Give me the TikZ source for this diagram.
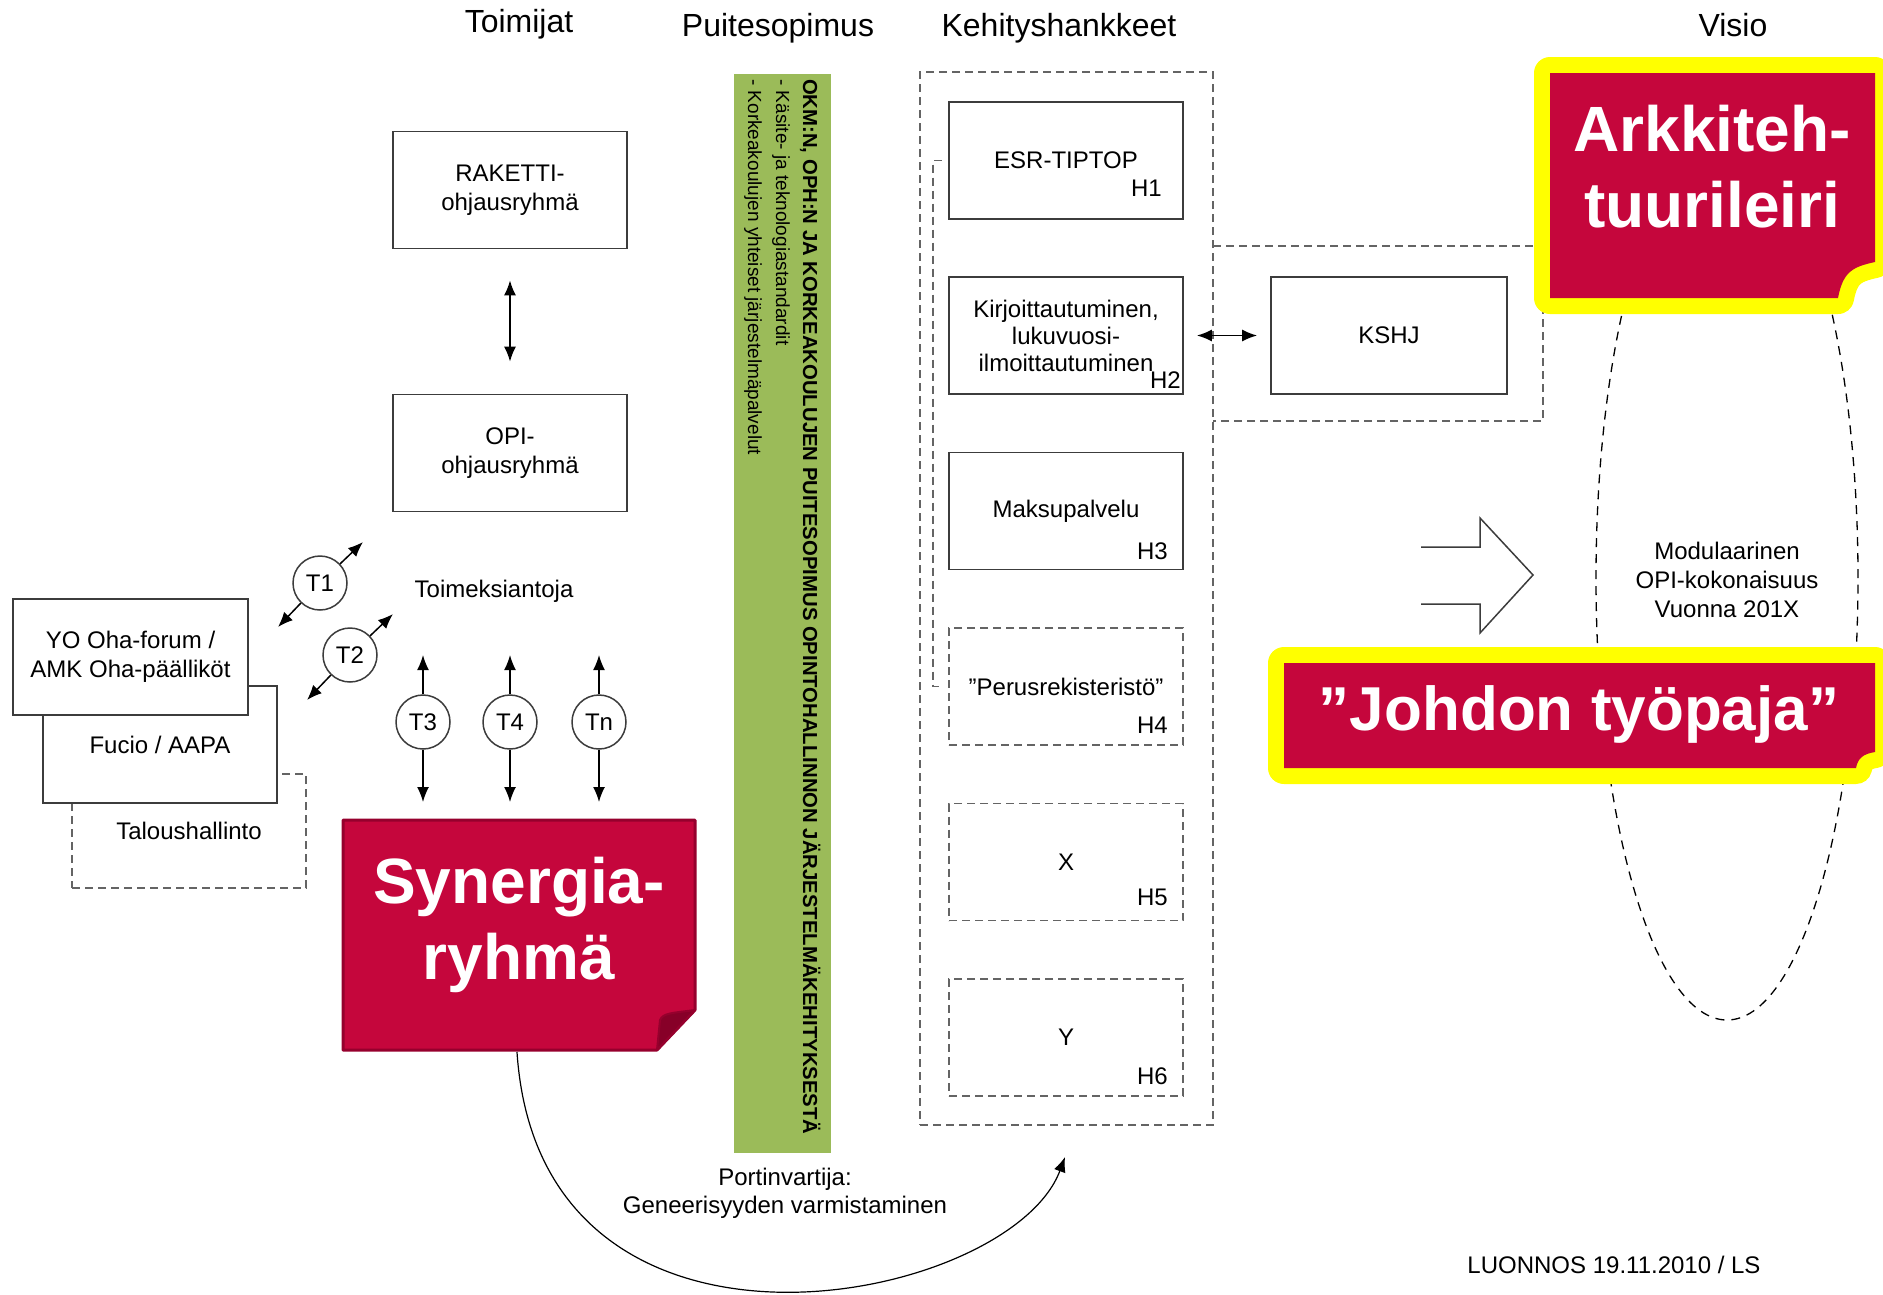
\documentclass[tikz,border=0pt]{standalone}
\usepackage{fontspec}
\setmainfont{Liberation Sans}
\usetikzlibrary{positioning,arrows.meta}
\definecolor{noteRed}{RGB}{197,6,60}
\definecolor{noteDark}{RGB}{150,0,45}
\definecolor{noteFold}{RGB}{135,0,40}
\definecolor{noteYellow}{RGB}{255,255,0}
\definecolor{barGreen}{HTML}{9BBB59}
\definecolor{lineGray}{RGB}{60,60,60}
\definecolor{dashGray}{RGB}{100,100,100}

\begin{document}
\begin{tikzpicture}[x=1pt,y=-1pt,
    every node/.style={font=\fontsize{24}{29}\selectfont},
    box/.style={draw=lineGray,line width=1.8pt,fill=white,minimum width=234pt,minimum height=117pt,align=center,inner sep=2pt},
    gdash/.style={draw=dashGray,line width=1.8pt,dash pattern=on 8pt off 5pt},
    dbox/.style={box,gdash},
    tcirc/.style={circle,draw=lineGray,line width=1.5pt,fill=white,minimum size=54pt,inner sep=0pt},
    arr/.style={-{Latex[length=15pt,width=12pt]},line width=1.5pt},
    darr/.style={{Latex[length=15pt,width=12pt]}-{Latex[length=15pt,width=12pt]},line width=1.5pt},
    head/.style={font=\fontsize{32}{38}\selectfont,inner sep=0pt,anchor=base},
    hlab/.style={inner sep=0pt,anchor=base east},
    bignote/.style={font=\bfseries\fontsize{64}{76}\selectfont,text=white,align=center,inner sep=0pt},
    yellowrim/.style={preaction={draw=noteYellow,line width=32pt,line join=round},fill=noteRed}]
    \useasboundingbox (0,0) rectangle (1883,1294);

    % column titles
    \node [head] (hToim) at (519,32) {Toimijat};
    \node [head] (hPuit) at (778,36) {Puitesopimus};
    \node [head] (hKeh) at (1059,36) {Kehityshankkeet};
    \node [head] (hVis) at (1733,36) {Visio};

    % puitesopimus bar
    \node [fill=barGreen,minimum width=97pt,minimum height=1079pt,inner sep=0pt] (bar) at (782.5,613.5) {};
    \node [rotate=-90,anchor=base west,inner sep=0pt,font=\bfseries\fontsize{20.3}{24}\selectfont] (barT) at (803,79)
        {OKM:N, OPH:N JA KORKEAKOULUJEN PUITESOPIMUS OPINTOHALLINNON JÄRJESTELMÄKEHITYKSESTÄ};
    \node [rotate=-90,anchor=base west,inner sep=0pt,font=\fontsize{19}{24}\selectfont] (barA) at (776,79)
        {- Käsite- ja teknologiastandardit};
    \node [rotate=-90,anchor=base west,inner sep=0pt,font=\fontsize{19}{24}\selectfont] (barB) at (748,79)
        {- Korkeakoulujen yhteiset järjestelmäpalvelut};

    % toimijat
    \node [box] (rak) at (510,190) {RAKETTI-\\ohjausryhmä};
    \node [box] (opi) at (510,453) {OPI-\\ohjausryhmä};
    \draw [darr,shorten <=31pt,shorten >=32pt] (rak) -- (opi);

    \node [dbox,minimum height=114pt] (tal) at (189,831) {Taloushallinto};
    \node [box] (fuc) at (160,744.5) {Fucio / AAPA};
    \node [box,minimum width=235pt,minimum height=116pt] (yo) at (130.5,657) {YO Oha-forum /\\AMK Oha-päälliköt};

    \node [tcirc] (t1) at (320,583) {T1};
    \node [tcirc] (t2) at (350,655) {T2};
    \coordinate (t1a) at (278,627);
    \coordinate (t1b) at (363,542);
    \coordinate (t2a) at (307,700);
    \coordinate (t2b) at (393,614);
    \draw [arr] (t1) -- (t1a);
    \draw [arr] (t1) -- (t1b);
    \draw [arr] (t2) -- (t2a);
    \draw [arr] (t2) -- (t2b);

    \node [anchor=base,inner sep=0pt] (toim) at (494,597) {Toimeksiantoja};
    \node [tcirc] (t3) at (423,722) {T3};
    \node [tcirc] (t4) at (510,722) {T4};
    \node [tcirc] (tn) at (599,722) {Tn};
    \coordinate (t3u) at (423,655);
    \coordinate (t3d) at (423,802);
    \coordinate (t4u) at (510,655);
    \coordinate (t4d) at (510,802);
    \coordinate (tnu) at (599,655);
    \coordinate (tnd) at (599,802);
    \draw [arr] (t3) -- (t3u);
    \draw [arr] (t3) -- (t3d);
    \draw [arr] (t4) -- (t4u);
    \draw [arr] (t4) -- (t4d);
    \draw [arr] (tn) -- (tnu);
    \draw [arr] (tn) -- (tnd);

    % kehityshankkeet
    \node [gdash,minimum width=293pt,minimum height=1053pt,inner sep=0pt] (keh) at (1066.5,598.5) {};
    \node [box] (h1) at (1066,160.5) {ESR-TIPTOP};
    \node [box,font=\fontsize{24}{27}\selectfont] (h2) at (1066,335.5) {Kirjoittautuminen,\\lukuvuosi-\\ilmoittautuminen};
    \node [box] (h3) at (1066,511) {Maksupalvelu};
    \node [dbox] (h4) at (1066,686.5) {”Perusrekisteristö”};
    \node [dbox] (h5) at (1066,862) {X};
    \node [dbox] (h6) at (1066,1037.5) {Y};
    \node [hlab] (h1lab) at ([xshift=-22pt,yshift=23pt]h1.south east) {H1};
    \node [hlab] (h2lab) at ([xshift=-3pt,yshift=6pt]h2.south east) {H2};
    \node [hlab] (h3lab) at ([xshift=-16pt,yshift=11pt]h3.south east) {H3};
    \node [hlab] (h4lab) at ([xshift=-16pt,yshift=12pt]h4.south east) {H4};
    \node [hlab] (h5lab) at ([xshift=-16pt,yshift=16pt]h5.south east) {H5};
    \node [hlab] (h6lab) at ([xshift=-16pt,yshift=12pt]h6.south east) {H6};
    \draw [gdash] ([xshift=-6pt]h1.west) -- ++(-9,0) |- ([xshift=-6pt]h4.west);

    \draw [gdash] (1213,246) -- (1543,246) -- (1543,421) -- (1213,421);
    \node [box,minimum width=236pt] (kshj) at (1389,335.5) {KSHJ};
    \draw [darr,shorten <=13pt,shorten >=13pt] (h2) -- (kshj);

    % visio
    \draw [line width=1.3pt,dash pattern=on 9pt off 7pt] (1727,578) ellipse [x radius=131pt,y radius=442pt];
    \node [align=center,inner sep=0pt] (vis) at (1727,580) {Modulaarinen\\OPI-kokonaisuus\\Vuonna 201X};
    \draw [lineGray,line width=1.5pt] (1421,547) -- (1480,547) -- (1480,518) -- (1533,575)
        -- (1480,633) -- (1480,604) -- (1421,604);

    % synergiaryhma
    \filldraw [fill=noteRed,draw=noteDark,line width=3pt,line join=round]
        (343,820) -- (695,820) -- (695,1010) -- (657,1050) -- (343,1050) -- cycle;
    \filldraw [fill=noteFold,draw=noteDark,line width=2pt,line join=round]
        (695,1010) .. controls (672,1013) and (663,1013) .. (660,1020) -- (657,1050) -- cycle;
    \node [bignote] (syn) at (519,925) {Synergia-\\ryhmä};
    \node [align=center,inner sep=0pt,font=\fontsize{24}{28}\selectfont] (gate) at (785,1193)
        {Portinvartija:\\Geneerisyyden varmistaminen};
    \coordinate (gateEnd) at (1065,1157);
    \draw [arr,line width=1.2pt] (517,1052) .. controls (540,1400) and (1010,1305) .. (gateEnd);

    % notes
    \path [yellowrim] (1550,73) -- (1875,73) -- (1875,262) .. controls (1852,267) and (1843,272) .. (1838,298)
        -- (1550,298) -- cycle;
    \node [bignote] (ark) at (1712,167) {Arkkiteh-\\tuurileiri};
    \path [yellowrim] (1284,663) -- (1875,663) -- (1875,752) .. controls (1863,754) and (1858,758) .. (1856,768)
        -- (1284,768) -- cycle;
    \node [bignote,anchor=base,font=\bfseries\fontsize{62}{74}\selectfont] (joh) at (1579,730) {”Johdon työpaja”};

    \node [anchor=base,inner sep=0pt] (luon) at (1614,1273) {LUONNOS 19.11.2010 / LS};
\end{tikzpicture}
\end{document}
